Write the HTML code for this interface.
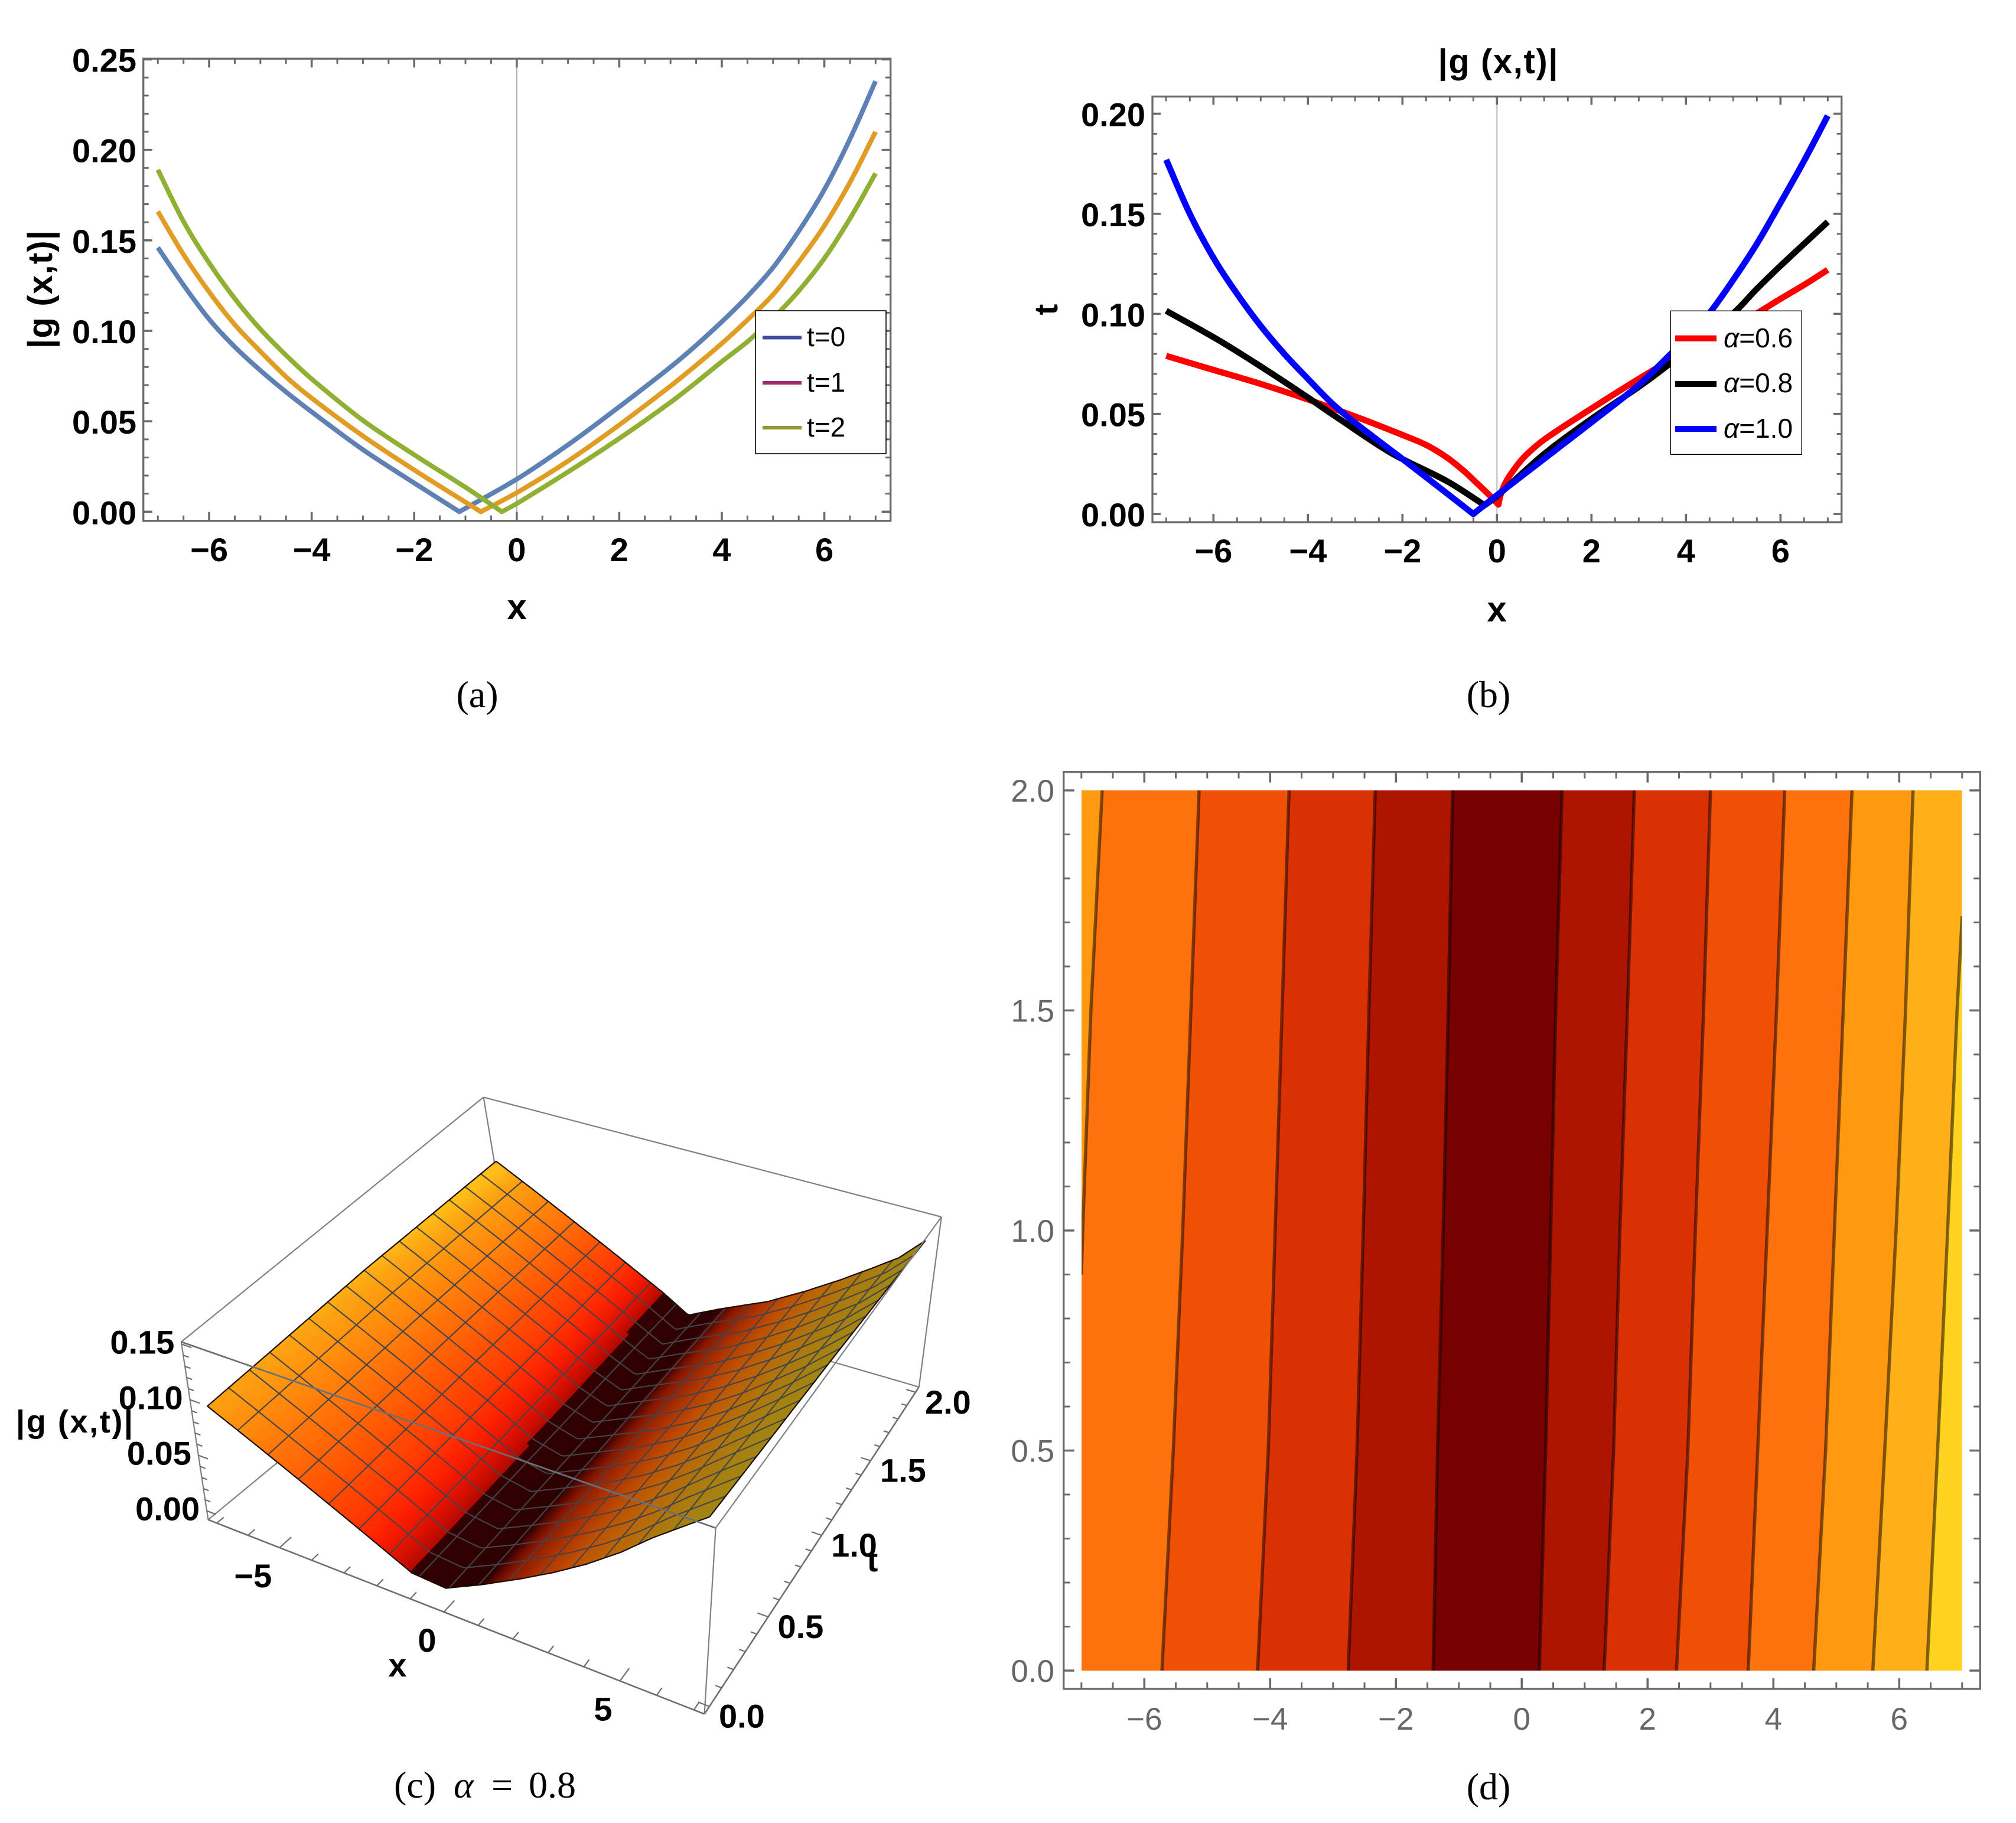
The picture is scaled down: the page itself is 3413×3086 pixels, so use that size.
<!DOCTYPE html>
<html lang="en">
<head>
<meta charset="utf-8">
<title>|g(x,t)| figure panels</title>
<style>
html,body{margin:0;padding:0;background:#fff;}
svg{display:block;}
text{font-family:"Liberation Sans",sans-serif;}
.tick{font-size:56px;font-weight:bold;fill:#000;}
.lab{font-weight:bold;fill:#000;}
.cap{font-family:"Liberation Serif",serif;font-size:64px;fill:#000;}
.leg{font-size:46px;fill:#000;}
</style>
</head>
<body>
<svg id="fig" xmlns="http://www.w3.org/2000/svg" width="3413" height="3086" viewBox="0 0 3413 3086">
  <rect x="0" y="0" width="3413" height="3086" fill="#fff"/>
  <defs>
    <clipPath id="plotD"><rect x="1831" y="1337" width="1490.6" height="1491.5"/></clipPath>
  </defs>

  <g id="panelA">
    <g id="axesA"></g>
    <g id="seriesA"></g>
    <g>
      <rect x="1279" y="526" width="221" height="242" fill="#fff" stroke="#000" stroke-width="1.6"/>
      <line x1="1291" x2="1357" y1="571.5" y2="571.5" stroke="#3f4d9e" stroke-width="6"/>
      <line x1="1291" x2="1357" y1="648" y2="648" stroke="#9c2d6c" stroke-width="6"/>
      <line x1="1291" x2="1357" y1="724" y2="724" stroke="#98962c" stroke-width="6"/>
      <text class="leg" x="1366" y="586">t=0</text>
      <text class="leg" x="1366" y="663">t=1</text>
      <text class="leg" x="1366" y="739">t=2</text>
    </g>
    <text class="lab" font-size="60" x="875" y="1048" text-anchor="middle">x</text>
    <text class="lab" font-size="58" x="88" y="490" text-anchor="middle" transform="rotate(-90 88 490)" textLength="200" lengthAdjust="spacing">|g (x,t)|</text>
    <text class="cap" x="808" y="1197" text-anchor="middle">(a)</text>
  </g>

  <g id="panelB">
    <g id="axesB"></g>
    <g id="seriesB"></g>
    <g>
      <rect x="2828.3" y="526.3" width="222" height="243" fill="#fff" stroke="#000" stroke-width="1.4"/>
      <line x1="2836" x2="2906" y1="572.7" y2="572.7" stroke="#ff0000" stroke-width="10"/>
      <line x1="2836" x2="2906" y1="650" y2="650" stroke="#000000" stroke-width="10"/>
      <line x1="2836" x2="2906" y1="726" y2="726" stroke="#0000ff" stroke-width="10"/>
      <text class="leg" x="2918" y="588"><tspan font-style="italic">α</tspan>=0.6</text>
      <text class="leg" x="2918" y="664"><tspan font-style="italic">α</tspan>=0.8</text>
      <text class="leg" x="2918" y="741"><tspan font-style="italic">α</tspan>=1.0</text>
    </g>
    <text class="lab" font-size="58" x="2536" y="124" text-anchor="middle" textLength="203" lengthAdjust="spacing">|g (x,t)|</text>
    <text class="lab" font-size="60" x="2534" y="1052" text-anchor="middle">x</text>
    <text class="lab" font-size="56" x="1790" y="524" text-anchor="middle" transform="rotate(-90 1790 524)">t</text>
    <text class="cap" x="2520" y="1197" text-anchor="middle">(b)</text>
  </g>

  <g id="panelC">
    <g id="boxBack"></g>
    <g id="surface"></g>
    <g id="mesh"></g>
    <g id="boxFront"></g>
    <g id="ticksC"></g>
    <text class="lab" font-size="54" x="126" y="2425" text-anchor="middle" textLength="198" lengthAdjust="spacing">|g (x,t)|</text>
    <text class="lab" font-size="56" x="673" y="2838" text-anchor="middle">x</text>
    <text class="lab" font-size="56" x="1477" y="2660" text-anchor="middle">t</text>
    <text class="cap" y="3043"><tspan x="667">(c)</tspan><tspan x="768" font-style="italic">α</tspan><tspan x="832">=</tspan><tspan x="895">0.8</tspan></text>
  </g>

  <g id="panelD">
    <g clip-path="url(#plotD)">
      <g id="bandsD"></g>
      <g id="linesD"></g>
    </g>
    <g id="axesD"></g>
    <text class="cap" x="2520" y="3046" text-anchor="middle">(d)</text>
  </g>
</svg>

<script>
// ---------- Panel (a) data ----------
const seriesT0X = [-7,-6.5,-6,-5.5,-5,-4.5,-4,-3,-2,-1.12,0,1,2,3,3.5,4,4.5,5,5.5,6,6.5,7];
const seriesT0Y = [.146,.1253,.1064,.0911,.0781,.0662,.0552,.0343,.0159,0,.018,.037,.058,.08,.092,.105,.119,.135,.155,.178,.206,.238];
const seriesT1X = [-7,-6.5,-6,-5.5,-5,-4.5,-4,-3,-2,-.7,0,1,2,3,3.5,4,4.5,5,5.5,6,6.5,7];
const seriesT1Y = [.1659,.1421,.1215,.1034,.0886,.0746,.0628,.0419,.0231,0,.0105,.028,.048,.0695,.081,.093,.106,.12,.138,.158,.182,.21];
const seriesT2X = [-7,-6.5,-6,-5.5,-5,-4.5,-4,-3,-2,-1,-.29,0,1,2,3,3.5,4,4.5,5,5.5,6,6.5,7];
const seriesT2Y = [.189,.1604,.1375,.1178,.1009,.0865,.0734,.0505,.0315,.0135,0,.0045,.022,.0405,.0605,.0715,.083,.094,.107,.122,.14,.162,.187];
const xTicksAB = [-6,-4,-2,0,2,4,6];
const yTickLabelsA = ["0.00","0.05","0.10","0.15","0.20","0.25"];

// ---------- Panel (b) data ----------
const alpha10X = [-7,-6.5,-6,-5.5,-5,-4.5,-4,-3.5,-3,-2,-1,-.5,0,1,2,3,3.67,4,4.5,5,5.5,6,6.5,7];
const alpha10Y = [.177,.15,.128,.11,.094,.08,.0675,.0555,.0455,.0275,.0092,0,.0094,.0276,.0458,.0645,.0798,.0875,.1005,.117,.135,.1555,.1765,.199];
const alpha08X = [-7,-5.93,-4.97,-4.02,-3.4,-2.24,-1.05,-.26,0,1,2,3,3.67,5,5.5,6,6.5,7];
const alpha08Y = [.1015,.0874,.0733,.0585,.0485,.0305,.0163,.0044,.0089,.030,.0475,.0635,.0753,.1003,.1125,.124,.135,.146];
const alpha06X = [-7,-6,-5,-4,-3,-2,-1.5,-1.05,-.7,-.51,-.117,.03,.08,.2,.4,.61,1,2,3,3.5,4.5,5.5,6,6.5,7];
const alpha06Y = [.079,.072,.065,.0572,.0487,.0395,.0345,.0281,.0215,.0173,.0084,.0047,.0098,.0165,.0235,.0293,.0372,.0527,.0675,.0745,.087,.1003,.1075,.1145,.122];
const yTickLabelsB = ["0.00","0.05","0.10","0.15","0.20"];

// ---------- Panel (c) data : z read along rows of constant t ----------
const surfaceTRows = [0,1,2];
const surfaceXRow0 = [-7,-5.72,-4.2,-2.76,-1.1,-.1,1.0,2.1,3.0,3.9,4.8,5.6,7];
const surfaceXRow1 = [-7,-5.39,-3.92,-2.52,-1.2,-.28,.82,2.2,3.3,4.3,5.2,6,7];
const surfaceXRow2 = [-7,-5.13,-3.7,-2.33,-1.3,-.45,.64,2.3,3.55,4.6,5.5,6.3,7];
const surfaceZRow0 = [.092,.0738,.0521,.0316,.008,.006,.022,.04,.056,.074,.095,.117,.152];
const surfaceZRow1 = [.0975,.0735,.0516,.0312,.011,.004,.018,.036,.054,.074,.095,.115,.143];
const surfaceZRow2 = [.098,.0711,.0505,.0308,.016,.002,.016,.036,.056,.075,.093,.11,.132];
const shadeStopsX = [-7.6,-7,-6,-5,-4,-3,-2.4,-1.8,-1.42,-1.36,.28,.45,1,2,3,4,5,6,7];
const shadeStopsRGB = [[255,190,24],[252,163,18],[255,138,12],[255,111,8],[255,84,4],[255,56,2],[252,32,0],[216,16,0],[176,10,0],[50,0,0],[44,0,0],[74,5,0],[138,24,0],[174,53,0],[191,80,0],[187,100,6],[176,116,12],[168,127,16],[162,134,18]];
const zTicksC = ["0.00","0.05","0.10","0.15"];
const xTicksC = ["-5","0","5"];
const tTicksC = ["0.0","0.5","1.0","1.5","2.0"];

// ---------- Panel (d) data : contour x position at each t ----------
const contourT = [0,.5,1,1.5,2];
const contour2 = [-5.72,-5.54,-5.39,-5.26,-5.13];
const contour3 = [-4.2,-4.03,-3.92,-3.81,-3.7];
const contour4 = [-2.76,-2.62,-2.52,-2.43,-2.33];
const contour5 = [-1.41,-1.34,-1.25,-1.17,-1.1];
const contour6 = [.28,.38,.46,.54,.64];
const contour7 = [1.31,1.46,1.56,1.68,1.79];
const contour8 = [2.46,2.64,2.76,2.89,3.0];
const contour9 = [3.6,3.75,3.9,4.05,4.18];
const contour10 = [4.64,4.83,4.97,5.11,5.25];
const contour11 = [5.58,5.77,5.95,6.1,6.22];
const contour12X = [6.44,6.61,6.77,6.92,7];
const contour12T = [0,.5,1,1.5,1.714];
const contour1X = [-7,-6.98,-6.85,-6.67];
const contour1T = [.9,1,1.5,2];
const bandColors = ["#ff9a10","#fc720d","#ef5006","#d93004","#ae1500","#770000","#ae1500","#d93004","#ef5006","#fc720d","#ff9a10","#ffb018","#ffd31f"];
const xTicksD = [-6,-4,-2,0,2,4,6];
const yTicksD = ["0.0","0.5","1.0","1.5","2.0"];

// ---------- helpers ----------
const NS = "http://www.w3.org/2000/svg";
function add(parent, tag, attrs) {
  const el = document.createElementNS(NS, tag);
  for (const k in attrs) el.setAttribute(k, attrs[k]);
  parent.appendChild(el);
  return el;
}
const $ = id => document.getElementById(id);
const minus = s => String(s).replace("-", "\u2212");
const AXIS = "#6a6a6a";

function drawFrame(g, o) {
  const frame = add(g, "rect", {x:o.l, y:o.t, width:o.r-o.l, height:o.b-o.t, fill:"none", stroke:AXIS, "stroke-width":3.3});
  
  
  for (let i = -14; i <= 14; i++) {
    const v = i / 2;
    const major = i % 4 === 0;
    const len = major ? o.maj : o.min;
    const X = o.fx(v);
    const a = add(g, "line", {x1:X, x2:X, y1:o.b, y2:o.b-len, stroke:AXIS, "stroke-width":major?3.6:3});
    
    
    const b = add(g, "line", {x1:X, x2:X, y1:o.t, y2:o.t+len, stroke:AXIS, "stroke-width":major?3.6:3});
    
    
  }
  for (let i = 0; i <= o.yCount; i++) {
    const v = i * o.yStep;
    const major = i % o.yMajorEvery === 0;
    const len = major ? o.maj : o.min;
    const Y = o.fy(v);
    const a = add(g, "line", {x1:o.l, x2:o.l+len, y1:Y, y2:Y, stroke:AXIS, "stroke-width":major?3.6:3});
    
    
    const b = add(g, "line", {x1:o.r, x2:o.r-len, y1:Y, y2:Y, stroke:AXIS, "stroke-width":major?3.6:3});
    
    
  }
}

function smoothSegment(pts) {
  let d = "";
  const dist = (p, q) => Math.hypot(p[0]-q[0], p[1]-q[1]);
  for (let i = 0; i < pts.length - 1; i++) {
    const p0 = pts[Math.max(0, i-1)], p1 = pts[i], p2 = pts[i+1], p3 = pts[Math.min(pts.length-1, i+2)];
    const seg = dist(p1, p2);
    const t1d = dist(p0, p1) + seg, t2d = seg + dist(p2, p3);
    const c1 = [p1[0] + (p2[0]-p0[0]) / t1d * seg / 3, p1[1] + (p2[1]-p0[1]) / t1d * seg / 3];
    const c2 = [p2[0] - (p3[0]-p1[0]) / t2d * seg / 3, p2[1] - (p3[1]-p1[1]) / t2d * seg / 3];
    d += `C${c1[0].toFixed(1)} ${c1[1].toFixed(1)} ${c2[0].toFixed(1)} ${c2[1].toFixed(1)} ${p2[0].toFixed(1)} ${p2[1].toFixed(1)}`;
  }
  return d;
}
function curvePath(xs, ys, fx, fy) {
  let k = 0;
  ys.forEach((v, i) => { if (v < ys[k]) k = i; });
  const pts = xs.map((x, i) => [fx(x), fy(ys[i])]);
  return `M${pts[0][0].toFixed(1)} ${pts[0][1].toFixed(1)}` + smoothSegment(pts.slice(0, k+1)) + smoothSegment(pts.slice(k));
}

// ---------- Panel (a) ----------
const ax = v => 874.8 + v * 86.79;
const ay = v => 866.3 - v * 3063;
(function () {
  const g = $("axesA");
  const zero = add(g, "line", {x1:ax(0), x2:ax(0), y1:99.3, y2:881.7, stroke:"#aaa", "stroke-width":1.8});
  
  
  drawFrame(g, {l:242.7, r:1507.7, t:99.3, b:881.7, fx:ax, fy:ay, maj:15, min:9, yCount:25, yStep:.01, yMajorEvery:5});
  xTicksAB.forEach(v => {
    const t = add(g, "text", {class:"tick", x:ax(v), y:950, "text-anchor":"middle"});
    t.textContent = minus(v);
    
    
  });
  yTickLabelsA.forEach(s => {
    const t = add(g, "text", {class:"tick", x:231, y:ay(parseFloat(s))+21, "text-anchor":"end"});
    t.textContent = s;
    
    
  });
  const s = $("seriesA");
  const l0 = add(s, "path", {d:curvePath(seriesT0X, seriesT0Y, ax, ay), fill:"none", stroke:"#5e81b5", "stroke-width":8, "stroke-linejoin":"round"});
  
  
  const l1 = add(s, "path", {d:curvePath(seriesT1X, seriesT1Y, ax, ay), fill:"none", stroke:"#e19c24", "stroke-width":8, "stroke-linejoin":"round"});
  
  
  const l2 = add(s, "path", {d:curvePath(seriesT2X, seriesT2Y, ax, ay), fill:"none", stroke:"#8fb032", "stroke-width":8, "stroke-linejoin":"round"});
  
  
})();

// ---------- Panel (b) ----------
const bx = v => 2534.3 + v * 80;
const by = v => 870.1 - v * 3388;
(function () {
  const g = $("axesB");
  const zero = add(g, "line", {x1:bx(0), x2:bx(0), y1:163.4, y2:884, stroke:"#aaa", "stroke-width":1.8});
  
  
  drawFrame(g, {l:1951, r:3117.7, t:163.4, b:884, fx:bx, fy:by, maj:14, min:8, yCount:20, yStep:.01, yMajorEvery:5});
  xTicksAB.forEach(v => {
    const t = add(g, "text", {class:"tick", x:bx(v), y:952, "text-anchor":"middle"});
    t.textContent = minus(v);
    
    
  });
  yTickLabelsB.forEach(s => {
    const t = add(g, "text", {class:"tick", x:1939, y:by(parseFloat(s))+21, "text-anchor":"end"});
    t.textContent = s;
    
    
  });
  const s = $("seriesB");
  const l0 = add(s, "path", {d:curvePath(alpha06X, alpha06Y, bx, by), fill:"none", stroke:"#ff0000", "stroke-width":10.5, "stroke-linejoin":"round"});
  
  
  const l1 = add(s, "path", {d:curvePath(alpha08X, alpha08Y, bx, by), fill:"none", stroke:"#000000", "stroke-width":10.5, "stroke-linejoin":"round"});
  
  
  const l2 = add(s, "path", {d:curvePath(alpha10X, alpha10Y, bx, by), fill:"none", stroke:"#0000ff", "stroke-width":10.5, "stroke-linejoin":"round"});
  
  
})();

// ---------- Panel (c) ----------
const XMIN = -7.28, XMAX = 7.28, TMIN = -.04, TMAX = 2.04, ZMIN = -.008, ZMAX = .152;
const corner = {
  L:[352.4,2572.6], F:[1192.6,2901.5], R:[1555.8,2347.9], B:[867,2147.8],
  Lt:[306.8,2271.6], Ft:[1211.6,2586.6], Rt:[1593.8,2060], Bt:[818.6,1857.4]
};
function project(x, t, z) {
  let u = (x - XMIN) / (XMAX - XMIN);
  let v = (t - TMIN) / (TMAX - TMIN);
  const w = (z - ZMIN) / (ZMAX - ZMIN);
  u = u / (u + 1.105 * (1 - u));
  v = v / (v + .83 * (1 - v));
  const mix = (a, b, f) => [a[0] + (b[0]-a[0])*f, a[1] + (b[1]-a[1])*f];
  const bot = mix(mix(corner.L, corner.F, u), mix(corner.B, corner.R, u), v);
  const top = mix(mix(corner.Lt, corner.Ft, u), mix(corner.Bt, corner.Rt, u), v);
  return mix(bot, top, w);
}
function rowAt(t) {
  const f = t <= 1 ? t / (surfaceTRows[1]-surfaceTRows[0]) : (t - 1) / (surfaceTRows[2]-surfaceTRows[1]);
  const xa = t <= 1 ? surfaceXRow0 : surfaceXRow1, xb = t <= 1 ? surfaceXRow1 : surfaceXRow2;
  const za = t <= 1 ? surfaceZRow0 : surfaceZRow1, zb = t <= 1 ? surfaceZRow1 : surfaceZRow2;
  return {xs: xa.map((v,i) => v + (xb[i]-v)*f), zs: za.map((v,i) => v + (zb[i]-v)*f)};
}
function surfaceZ(x, t) {
  const r = rowAt(t);
  for (let i = 0; i < r.xs.length - 1; i++) {
    if (x <= r.xs[i+1] || i === r.xs.length - 2) {
      const f = (x - r.xs[i]) / (r.xs[i+1] - r.xs[i]);
      return r.zs[i] + (r.zs[i+1] - r.zs[i]) * f;
    }
  }
  return 0;
}
function shade(x, t) {
  const r = rowAt(t);
  const e0 = r.xs[4], e1 = r.xs[6];
  let q;
  if (x < e0) q = -1.42 - (e0 - x) * (.93 + .1 * t);
  else if (x > e1) q = .28 + (x - e1) * 1.1;
  else q = -1.36 + (x - e0) / (e1 - e0) * 1.64;
  if (q <= shadeStopsX[0]) return `rgb(${shadeStopsRGB[0].join(",")})`;
  for (let i = 0; i < shadeStopsX.length - 1; i++) {
    if (q <= shadeStopsX[i+1]) {
      const f = (q - shadeStopsX[i]) / (shadeStopsX[i+1] - shadeStopsX[i]);
      const c = shadeStopsRGB[i].map((v,j) => Math.round(v + (shadeStopsRGB[i+1][j]-v)*f));
      return `rgb(${c.join(",")})`;
    }
  }
  return `rgb(${shadeStopsRGB[shadeStopsRGB.length-1].join(",")})`;
}
const P = p => p[0].toFixed(1) + "," + p[1].toFixed(1);
function edge(g, a, b, color, w, name) {
  const el = add(g, "line", {x1:a[0], y1:a[1], x2:b[0], y2:b[1], stroke:color, "stroke-width":w});
  
  
}
(function () {
  const back = $("boxBack"), front = $("boxFront");
  edge(back, corner.Lt, corner.Bt, "#808080", 2.2, "box-edge");
  edge(back, corner.Bt, corner.Rt, "#808080", 2.2, "box-edge");
  edge(back, corner.Bt, corner.B, "#808080", 2.2, "box-edge");
  edge(back, corner.L, corner.B, "#808080", 2.2, "box-edge");
  edge(back, corner.R, corner.B, "#808080", 2.2, "box-edge");
  edge(back, corner.Rt, corner.R, "#808080", 2.2, "box-edge");
  edge(back, corner.L, corner.Lt, "#808080", 2.2, "box-edge");

  const sg = $("surface");
  const nT = 24, nX = 160;
  const dT = 2 / nT, dX = 14 / nX;
  for (let j = nT - 1; j >= 0; j--) {
    const t0 = j * dT, t1 = (j + 1) * dT;
    for (let i = 0; i < nX; i++) {
      const x0 = -7 + i * dX, x1 = x0 + dX;
      const col = shade((x0 + x1) / 2, (t0 + t1) / 2);
      const cell = add(sg, "polygon", {
        points: [project(x0,t0,surfaceZ(x0,t0)), project(x1,t0,surfaceZ(x1,t0)), project(x1,t1,surfaceZ(x1,t1)), project(x0,t1,surfaceZ(x0,t1))].map(P).join(" "),
        fill: col, stroke: col, "stroke-width": .9
      });
      
      
    }
  }
  const mg = $("mesh");
  const poly = (pts, color, w, name) => {
    const el = add(mg, "polyline", {points: pts.map(P).join(" "), fill:"none", stroke:color, "stroke-width":w, "stroke-linejoin":"round"});
    
    
  };
  for (let k = 1; k <= 15; k++) {
    const X = -7 + k * .875, pts = [];
    for (let s = 0; s <= 16; s++) pts.push(project(X, s/8, surfaceZ(X, s/8)));
    poly(pts, "#444448", 2.1, "mesh-line-x");
    const T = k * .125, pt = [];
    for (let s = 0; s <= 140; s++) { const x = -7 + s * .1; pt.push(project(x, T, surfaceZ(x, T))); }
    poly(pt, "#444448", 2.1, "mesh-line-t");
  }
  const border = (fn, n) => { const pts = []; for (let s = 0; s <= n; s++) pts.push(fn(s / n)); return pts; };
  poly(border(f => { const x = -7 + 14*f; return project(x, 0, surfaceZ(x, 0)); }, 140), "#1a0a00", 2.2, "surface-boundary");
  poly(border(f => { const x = -7 + 14*f; return project(x, 2, surfaceZ(x, 2)); }, 140), "#1a0a00", 2.2, "surface-boundary");
  poly(border(f => project(-7, 2*f, surfaceZ(-7, 2*f)), 16), "#1a0a00", 2.2, "surface-boundary");
  poly(border(f => project(7, 2*f, surfaceZ(7, 2*f)), 16), "#1a0a00", 2.2, "surface-boundary");

  edge(front, corner.Lt, corner.Ft, "#6a7078", 2.8, "box-edge-front");
  edge(front, corner.Ft, corner.Rt, "#808080", 2.2, "box-edge-front");
  edge(front, corner.Ft, corner.F, "#808080", 2.2, "box-edge-front");
  edge(front, corner.L, corner.F, "#6e6e6e", 2.6, "box-edge-front");
  edge(front, corner.F, corner.R, "#6e6e6e", 2.6, "box-edge-front");

  const tg = $("ticksC");
  for (let i = -7; i <= 7; i++) {
    const major = i % 5 === 0;
    edge(tg, project(i, TMIN, ZMIN), project(i, TMIN + (major ? .07 : .04), ZMIN), "#6e6e6e", 2.2, "x-tick-c");
  }
  for (let i = 0; i <= 20; i++) {
    const v = i / 10, major = i % 5 === 0;
    edge(tg, project(XMAX, v, ZMIN), project(XMAX - (major ? .3 : .17), v, ZMIN), "#6e6e6e", 2.2, "t-tick-c");
  }
  for (let i = 0; i <= 15; i++) {
    const v = i / 100, major = i % 5 === 0;
    edge(tg, project(XMIN, TMIN, v), project(XMIN + (major ? .3 : .17), TMIN, v), "#6e6e6e", 2.2, "z-tick-c");
  }
  zTicksC.forEach(s => {
    const p = project(XMIN, TMIN, parseFloat(s));
    const t = add(tg, "text", {class:"tick", x:p[0]-12, y:p[1]+16, "text-anchor":"end"});
    t.textContent = s;
    
    
  });
  xTicksC.forEach(s => {
    const p = project(parseFloat(s), TMIN, ZMIN);
    const t = add(tg, "text", {class:"tick", x:p[0]-13, y:p[1]+67, "text-anchor":"end"});
    t.textContent = minus(s);
    
    
  });
  tTicksC.forEach(s => {
    const p = project(XMAX, parseFloat(s), ZMIN);
    const t = add(tg, "text", {class:"tick", x:p[0]+16, y:p[1]+36});
    t.textContent = s;
    
    
  });
})();

// ---------- Panel (d) ----------
const dx = v => 2576.3 + v * 106.5;
const dy = v => 2828 - v * 745;
(function () {
  const contours = [
    {xs:contour1X, ts:contour1T},
    {xs:contour2, ts:contourT}, {xs:contour3, ts:contourT}, {xs:contour4, ts:contourT},
    {xs:contour5, ts:contourT}, {xs:contour6, ts:contourT}, {xs:contour7, ts:contourT},
    {xs:contour8, ts:contourT}, {xs:contour9, ts:contourT}, {xs:contour10, ts:contourT},
    {xs:contour11, ts:contourT}, {xs:contour12X, ts:contour12T}
  ];
  const bg = $("bandsD"), lg = $("linesD");
  const base = add(bg, "rect", {x:dx(-7), y:dy(2), width:dx(7)-dx(-7), height:dy(0)-dy(2), fill:bandColors[bandColors.length-1]});
  
  
  for (let i = contours.length - 1; i >= 0; i--) {
    const c = contours[i];
    const pts = c.xs.map((x,k) => [dx(x), dy(c.ts[k])]);
    pts.push([dx(c.xs[c.xs.length-1]), dy(2)], [dx(-7), dy(2)], [dx(-7), dy(c.ts[0])]);
    const band = add(bg, "polygon", {points: pts.map(P).join(" "), fill: bandColors[i]});
    
    
  }
  contours.forEach(c => {
    const pts = c.xs.map((x,k) => [dx(x), dy(c.ts[k])]);
    const line = add(lg, "polyline", {points: pts.map(P).join(" "), fill:"none", stroke:"#000", "stroke-opacity":.5, "stroke-width":5.5});
    
    
  });
  const g = $("axesD");
  drawFrame(g, {l:1800.7, r:3352.3, t:1306.7, b:2859, fx:dx, fy:dy, maj:18, min:11, yCount:20, yStep:.1, yMajorEvery:5});
  xTicksD.forEach(v => {
    const t = add(g, "text", {x:dx(v), y:2928, "text-anchor":"middle", "font-size":53, fill:"#666"});
    t.textContent = minus(v);
    
    
  });
  yTicksD.forEach(s => {
    const t = add(g, "text", {x:1785, y:dy(parseFloat(s))+19, "text-anchor":"end", "font-size":53, fill:"#666"});
    t.textContent = s;
    
    
  });
})();
</script>
</body>
</html>
